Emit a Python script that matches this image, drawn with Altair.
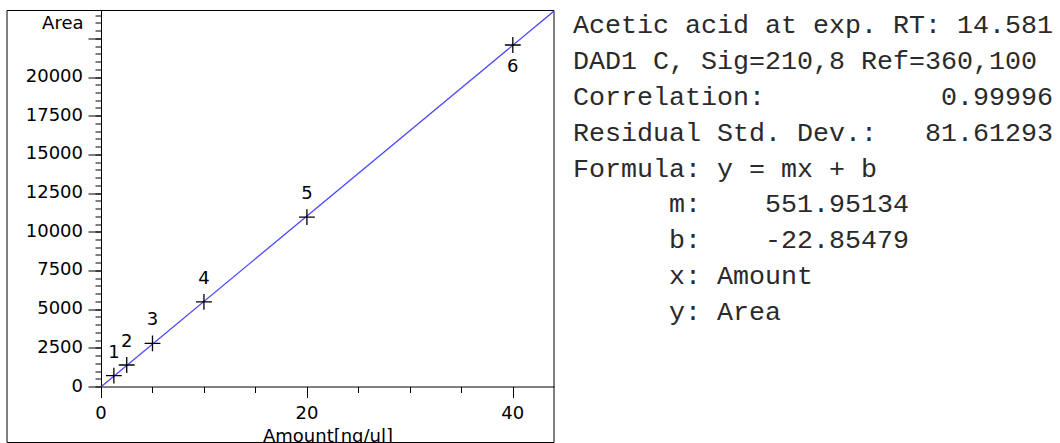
import altair as alt
import pandas as pd

# ---- data ----
amounts = [1.25, 2.5, 5, 10, 20, 40]
areas = [700, 1390, 2790, 5470, 10950, 22070]
point_labels = ["1", "2", "3", "4", "5", "6"]
label_side = ["above", "above", "above", "above", "above", "below"]

slope = 551.95134
intercept = -22.85479
fit_x = [0, 44]

x_major = [0, 20, 40]
x_minor = list(range(0, 41, 5))
y_major = list(range(0, 22501, 2500))
y_labelled = list(range(0, 20001, 2500))
y_minor = list(range(0, 24001, 500))

info_lines = [
    "Acetic acid at exp. RT: 14.581",
    "DAD1 C, Sig=210,8 Ref=360,100",
    "Correlation:" + " " * 11 + "0.99996",
    "Residual Std. Dev.:   81.61293",
    "Formula: y = mx + b",
    "      m:    551.95134",
    "      b:    -22.85479",
    "      x: Amount",
    "      y: Area",
]

FONT = "DejaVu Sans"
W, H = 453, 376

pts = pd.DataFrame({"amount": amounts, "area": areas,
                    "label": point_labels, "side": label_side})
fit = pd.DataFrame({"amount": fit_x})
xlab = pd.DataFrame({"amount": x_major, "t": [str(v) for v in x_major]})
ylab = pd.DataFrame({"area": y_labelled, "t": [str(v) for v in y_labelled]})

xscale = alt.Scale(domain=[0, 44], nice=False, zero=False)
yscale = alt.Scale(domain=[0, 24300], nice=False)

x_major_axis = alt.Axis(
    orient="bottom", values=x_major, tickSize=11, labels=False,
    domainColor="black", tickColor="black", grid=False,
    title="Amount[ng/ul]", titleFont=FONT, titleFontSize=18,
    titleFontWeight="normal", titleColor="black",
    titleBaseline="alphabetic", titleY=55,
)
x_minor_axis = alt.Axis(
    orient="bottom", values=x_minor, tickSize=6, labels=False, domain=False,
    tickColor="black", grid=False, title=None,
)
y_major_axis = alt.Axis(
    orient="left", values=y_major, tickSize=13, labels=False,
    domainColor="black", tickColor="black", grid=False,
    title="Area", titleAngle=0, titleAlign="right", titleBaseline="middle",
    titleX=-18, titleY=13, titleFont=FONT, titleFontSize=18,
    titleFontWeight="normal", titleColor="black",
)
y_minor_axis = alt.Axis(
    orient="left", values=y_minor, tickSize=6, labels=False, domain=False,
    tickColor="black", grid=False, title=None,
)

frame = alt.Chart(pd.DataFrame({"k": [0]})).mark_rect(
    fill="transparent", stroke="black", strokeWidth=1
).encode(x=alt.value(-94), x2=alt.value(W), y=alt.value(0), y2=alt.value(432))

line = alt.Chart(fit).transform_calculate(
    area=f"{slope} * datum.amount + ({intercept})"
).mark_line(color="#4848ff", strokeWidth=1.3, clip=True).encode(
    x=alt.X("amount:Q", scale=xscale, axis=x_minor_axis),
    y=alt.Y("area:Q", scale=yscale, axis=y_minor_axis),
)

points = alt.Chart(pts).mark_point(
    shape="M-1,0L1,0M0,-1L0,1", size=250, filled=False,
    stroke="black", strokeWidth=1.3, opacity=1,
).encode(
    x=alt.X("amount:Q", scale=xscale, axis=x_major_axis),
    y=alt.Y("area:Q", scale=yscale, axis=y_major_axis),
)

labels_above = alt.Chart(pts).transform_filter(
    alt.datum.side == "above"
).mark_text(font=FONT, fontSize=18, color="black", baseline="middle", dy=-23).encode(
    x=alt.X("amount:Q", scale=xscale, axis=None),
    y=alt.Y("area:Q", scale=yscale, axis=None),
    text="label:N",
)
labels_below = alt.Chart(pts).transform_filter(
    alt.datum.side == "below"
).mark_text(font=FONT, fontSize=18, color="black", baseline="middle", dy=22).encode(
    x=alt.X("amount:Q", scale=xscale, axis=None),
    y=alt.Y("area:Q", scale=yscale, axis=None),
    text="label:N",
)

# tick labels drawn as text marks positioned by the same scales
y_ticklabels = alt.Chart(ylab).mark_text(
    font=FONT, fontSize=18, color="black", align="right", baseline="middle"
).encode(
    x=alt.value(-18),
    y=alt.Y("area:Q", scale=yscale, axis=None),
    text="t:N",
)
x_ticklabels = alt.Chart(xlab).mark_text(
    font=FONT, fontSize=18, color="black", align="center", baseline="top"
).encode(
    x=alt.X("amount:Q", scale=xscale, axis=None),
    y=alt.value(H + 18),
    text="t:N",
)

left = alt.layer(
    frame, line, points, labels_above, labels_below, y_ticklabels, x_ticklabels
).resolve_axis(x="independent", y="independent").properties(width=W, height=H)

# monospace panel: indent column taken from each line's leading spaces
indents = [len(s) - len(s.lstrip(" ")) for s in info_lines]
info = pd.DataFrame({
    "i": list(range(len(info_lines))),
    "col": indents,
    "line": [s.strip(" ").replace(" ", "\u00a0") for s in info_lines],
})
text_chart = alt.Chart(info).mark_text(
    align="left", baseline="middle", font="Liberation Mono",
    fontSize=26.67, color="#2a2a2a",
).encode(
    x=alt.X("col:Q", scale=alt.Scale(domain=[0, 30], range=[0, 480]), axis=None),
    y=alt.Y("i:O", scale=alt.Scale(type="point", padding=0.389), axis=None),
    text="line:N",
).properties(width=480, height=316)

chart = alt.hconcat(left, text_chart, spacing=17).properties(
    padding={"left": 6, "top": 9.5, "right": 0, "bottom": 0},
    background="white",
).configure_view(stroke="transparent")

chart.save("out.html", embed_options={"renderer": "svg", "actions": False})
